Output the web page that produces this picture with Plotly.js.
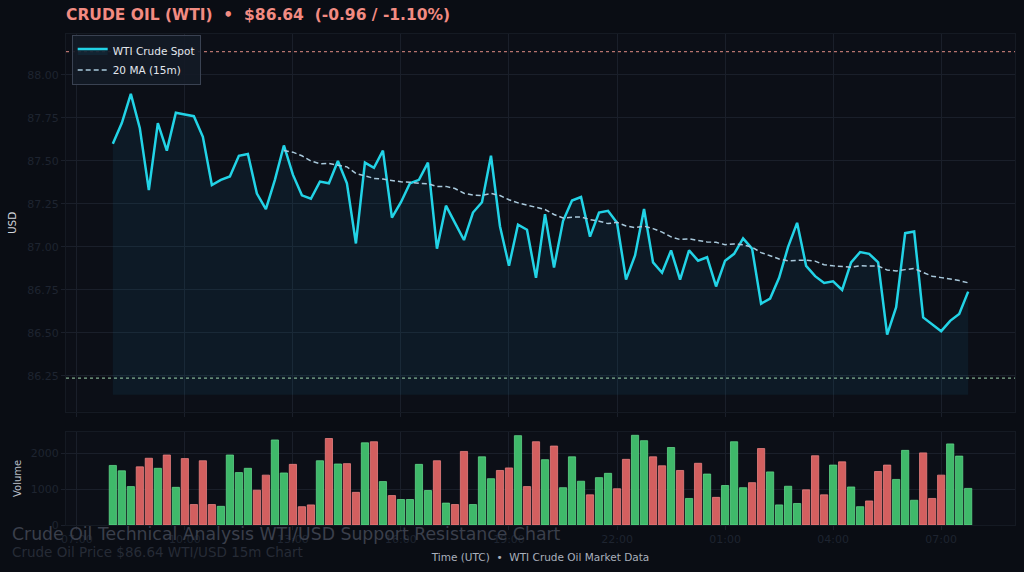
<!DOCTYPE html>
<html>
<head>
<meta charset="utf-8">
<script src="https://cdn.plot.ly/plotly-3.0.1.min.js"></script>
<style>
html,body{margin:0;padding:0;background:#0a0d14;}
#chart{width:1024px;height:572px;}
</style>
</head>
<body>
<div id="chart"></div>
<script>
// ---- data ----
const startDay = '2024-03-12';
const startHour = 8;          // first bar 08:00 UTC
const stepMinutes = 15;

const prices = [
  87.60, 87.72, 87.89, 87.69, 87.33, 87.72, 87.56, 87.78, 87.77, 87.76,
  87.64, 87.36, 87.39, 87.41, 87.53, 87.54, 87.31, 87.22, 87.39, 87.59,
  87.42, 87.30, 87.28, 87.38, 87.37, 87.50, 87.37, 87.02, 87.49, 87.46,
  87.56, 87.17, 87.26, 87.37, 87.39, 87.49, 86.99, 87.24, 87.14, 87.04,
  87.20, 87.26, 87.53, 87.12, 86.89, 87.13, 87.10, 86.82, 87.19, 86.88,
  87.15, 87.27, 87.29, 87.06, 87.20, 87.21, 87.14, 86.81, 86.95, 87.22,
  86.91, 86.85, 86.98, 86.81, 86.98, 86.92, 86.94, 86.77, 86.92, 86.96,
  87.05, 86.99, 86.67, 86.70, 86.82, 87.00, 87.14, 86.89, 86.83, 86.79,
  86.80, 86.75, 86.91, 86.97, 86.96, 86.91, 86.49, 86.65, 87.08, 87.09,
  86.59, 86.55, 86.51, 86.57, 86.61, 86.74
];

const volumes = [
  1660, 1510, 1070, 1620, 1860, 1580, 1950, 1050, 1850, 570,
  1790, 570, 520, 1950, 1460, 1580, 970, 1390, 2370, 1450,
  1690, 510, 560, 1790, 2410, 1700, 1710, 910, 2290, 2320,
  1210, 820, 710, 710, 1690, 960, 1790, 610, 570, 2050,
  570, 1900, 1290, 1520, 1590, 2490, 1070, 2320, 1820, 2200,
  1040, 1900, 1220, 840, 1320, 1440, 1010, 1830, 2500, 2350,
  1900, 1650, 2160, 1520, 740, 1720, 1420, 770, 1100, 2320,
  1040, 1180, 2130, 1480, 560, 1080, 600, 980, 1930, 840,
  1670, 1760, 1060, 510, 670, 1490, 1670, 1270, 2080, 690,
  2010, 740, 1390, 2260, 1920, 1020
];

const maPeriod = 20;
const resistanceLevel = 88.135;
const supportLevel = 86.237;
const fillBase = 86.14;

const NB = '\u00a0';
const titleText = 'CRUDE OIL (WTI)' + NB + NB + '•' + NB + NB + '$86.64' + NB + NB + '(-0.96 / -1.10%)';
const subTitle1 = 'Crude Oil Technical Analysis WTI/USD Support Resistance Chart';
const subTitle2 = 'Crude Oil Price $86.64 WTI/USD 15m Chart';
const xTitle = 'Time (UTC)' + NB + NB + '•' + NB + NB + 'WTI Crude Oil Market Data';

// ---- derived ----
function pad(n){return (n<10?'0':'')+n;}
function timeAt(i){
  const d = new Date(startDay + 'T00:00:00Z');
  d.setUTCMinutes(startHour*60 + i*stepMinutes);
  return d.getUTCFullYear()+'-'+pad(d.getUTCMonth()+1)+'-'+pad(d.getUTCDate())+' '+pad(d.getUTCHours())+':'+pad(d.getUTCMinutes());
}
const times = prices.map((_, i) => timeAt(i));

const maX = [], maY = [];
for (let i = maPeriod - 1; i < prices.length; i++) {
  let s = 0;
  for (let j = i - maPeriod + 1; j <= i; j++) s += prices[j];
  maX.push(times[i]); maY.push(s / maPeriod);
}
const barColors = prices.map((p, i) => (i === 0 || p >= prices[i-1]) ? '#3fb96a' : '#d35f5f');
const barLines = prices.map((p, i) => (i === 0 || p >= prices[i-1]) ? '#5fd488' : '#e88080');

const xStart = '2024-03-12 06:42';
const xEnd = '2024-03-13 09:03';

const traces = [
  { x: times, y: times.map(() => fillBase), type: 'scatter', mode: 'lines',
    line: {width: 0, color: 'rgba(0,0,0,0)'}, hoverinfo: 'skip', showlegend: false,
    xaxis: 'x', yaxis: 'y' },
  { x: times, y: prices, type: 'scatter', mode: 'lines', name: 'WTI Crude Spot',
    line: {color: '#22d3e6', width: 2.5}, fill: 'tonexty', fillcolor: 'rgba(20,160,220,0.08)',
    xaxis: 'x', yaxis: 'y' },
  { x: maX, y: maY, type: 'scatter', mode: 'lines', name: '20 MA (15m)',
    line: {color: '#a9c9dc', width: 1.5, dash: '5px,3px'}, xaxis: 'x', yaxis: 'y' },
  { x: times, y: volumes, type: 'bar', name: 'Volume', showlegend: false,
    marker: {color: barColors, line: {color: barLines, width: 0.8}},
    xaxis: 'x2', yaxis: 'y2' }
];

const tickFont = {color: '#1e2430', size: 11};
const gridC = '#1a1f2a';

const layout = {
  width: 1024, height: 572,
  paper_bgcolor: '#0a0d14',
  plot_bgcolor: '#0c0f17',
  font: {family: 'DejaVu Sans, sans-serif', color: '#c8ccd4'},
  margin: {l: 66, r: 9, t: 34, b: 47},
  showlegend: true,
  bargap: 0.2,
  title: {text: '<b>' + titleText + '</b>', x: 66/1024, xanchor: 'left', xref: 'container',
          y: 1 - 15/572, yanchor: 'middle', yref: 'container',
          font: {size: 15.5, color: '#f28b82'}},
  legend: {x: 0.006, y: 0.997, xanchor: 'left', yanchor: 'top', traceorder: 'normal',
           bgcolor: 'rgba(20,26,38,0.92)', bordercolor: '#3a4252', borderwidth: 1,
           font: {size: 10.5, color: '#e2e7ee'}, itemwidth: 30},
  xaxis: {type: 'date', range: [xStart, xEnd], domain: [0, 1], anchor: 'y',
          tick0: '2024-03-12 07:00', dtick: 3*3600000, showticklabels: false,
          ticks: 'outside', ticklen: 4, tickcolor: gridC,
          gridcolor: gridC, showline: true, mirror: true, linecolor: '#151a23', zeroline: false},
  yaxis: {domain: [0.2308, 1], range: [86.042, 88.238], anchor: 'x',
          tickvals: [86.25, 86.5, 86.75, 87, 87.25, 87.5, 87.75, 88],
          tickformat: '.2f', tickfont: tickFont, ticks: 'outside', ticklen: 4, tickcolor: gridC,
          gridcolor: gridC, showline: true, mirror: true, linecolor: '#151a23', zeroline: false,
          title: {text: 'USD', font: {size: 10.5, color: '#d2d6dc'}, standoff: 8}},
  xaxis2: {type: 'date', range: [xStart, xEnd], domain: [0, 1], anchor: 'y2', matches: 'x',
           tick0: '2024-03-12 07:00', dtick: 3*3600000, tickformat: '%H:%M',
           tickfont: tickFont, ticks: 'outside', ticklen: 4, tickcolor: gridC,
           gridcolor: gridC, showline: true, mirror: true, linecolor: '#151a23', zeroline: false,
           title: {text: xTitle, font: {size: 10.5, color: '#a9b0bc'}, standoff: 8}},
  yaxis2: {domain: [0, 0.19], range: [0, 2600], anchor: 'x2',
           tickvals: [0, 1000, 2000], tickfont: tickFont, ticks: 'outside', ticklen: 4, tickcolor: gridC,
           gridcolor: gridC, showline: true, mirror: true, linecolor: '#151a23', zeroline: false,
           title: {text: 'Volume', font: {size: 10, color: '#b8bec8'}, standoff: 7}},
  shapes: [
    {type: 'line', xref: 'x domain', yref: 'y', x0: 0, x1: 1, y0: resistanceLevel, y1: resistanceLevel,
     line: {color: 'rgba(240,150,140,0.75)', width: 1.2, dash: 'dot'}},
    {type: 'line', xref: 'x domain', yref: 'y', x0: 0, x1: 1, y0: supportLevel, y1: supportLevel,
     line: {color: 'rgba(170,225,180,0.75)', width: 1.2, dash: 'dot'}}
  ],
  annotations: [
    {text: subTitle1, xref: 'paper', yref: 'paper', x: -56/949, y: (525-534)/491,
     xanchor: 'left', yanchor: 'middle', showarrow: false, font: {size: 17.3, color: '#3a3f4b'}},
    {text: subTitle2, xref: 'paper', yref: 'paper', x: -56/949, y: (525-552)/491,
     xanchor: 'left', yanchor: 'middle', showarrow: false, font: {size: 13.5, color: '#262b36'}}
  ]
};

Plotly.newPlot('chart', traces, layout, {displayModeBar: false, staticPlot: true});
</script>
</body>
</html>
